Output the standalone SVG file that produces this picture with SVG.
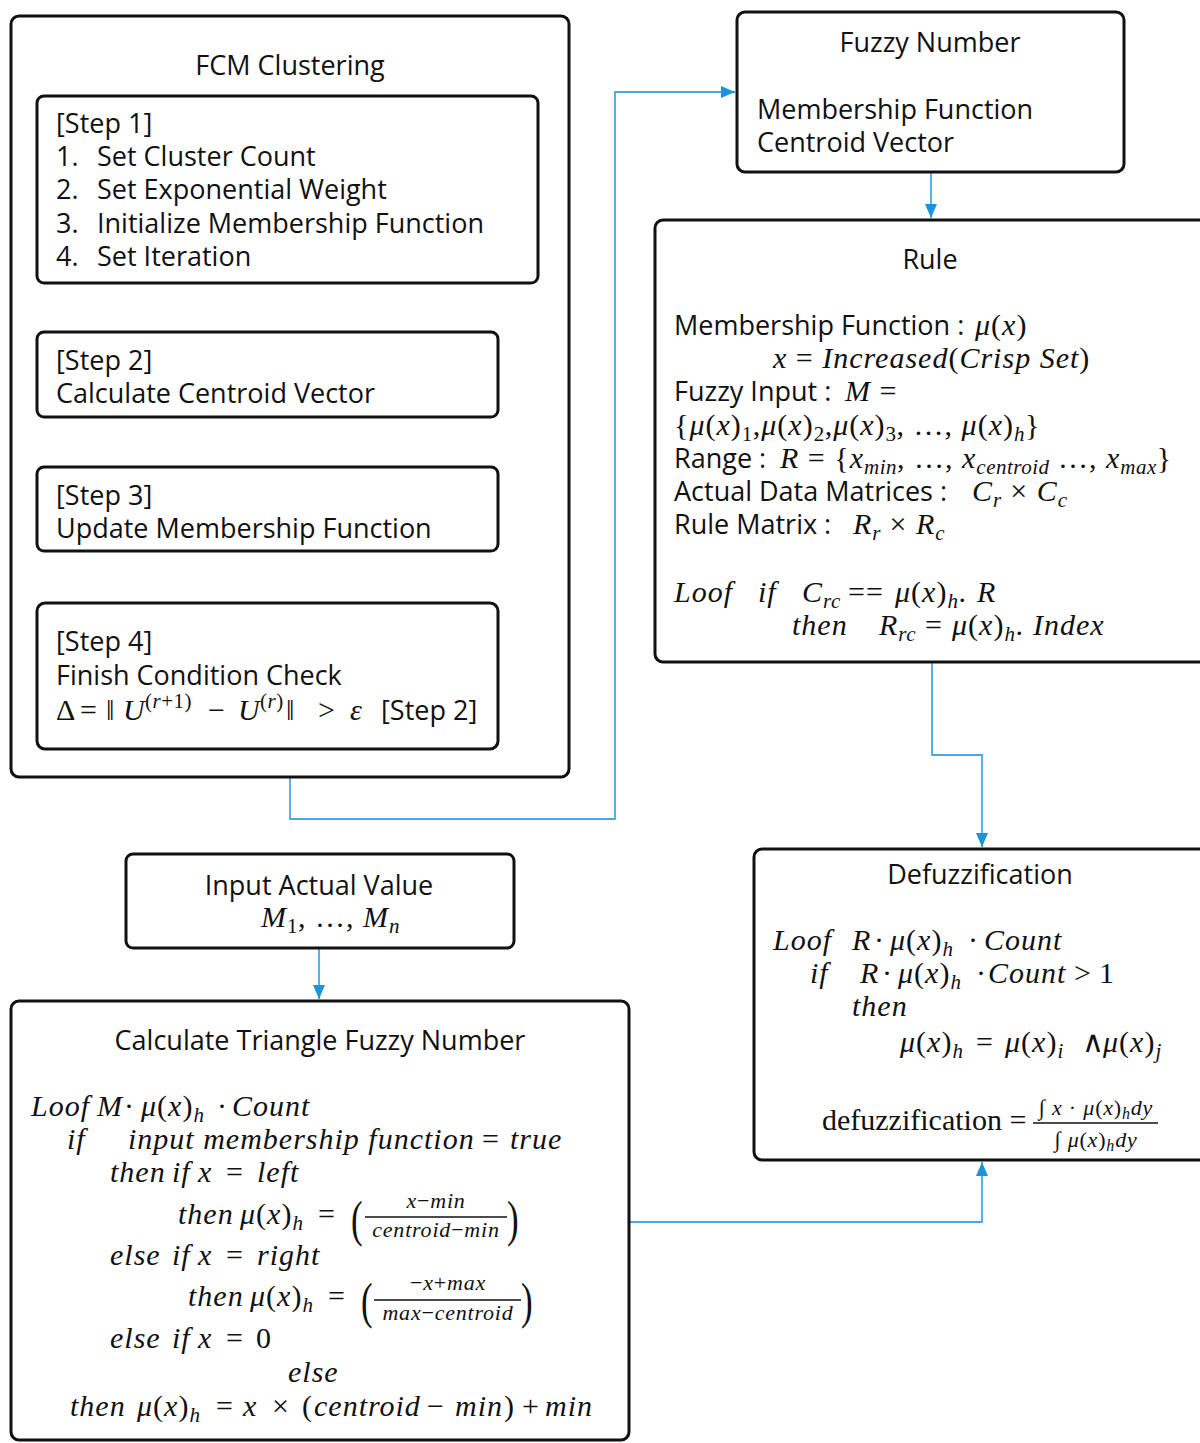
<svg xmlns="http://www.w3.org/2000/svg" width="1200" height="1443" viewBox="0 0 1200 1443">
<style>
.box{fill:#fff;stroke:#111;stroke-width:3}
.t{font-family:"Open Sans","Noto Sans",sans-serif;font-size:27px;fill:#111}
.c{text-anchor:middle}
.m{font-family:"Liberation Serif",serif;font-style:italic;font-size:30px;letter-spacing:1px;fill:#111}
.u{font-style:normal}
.b{font-size:21px;letter-spacing:0.5px}
.f{font-size:22px;letter-spacing:0.8px}
.p{font-family:"Liberation Serif",serif;font-style:normal;font-size:50px;fill:#111}
.con{fill:none;stroke:#4aa8df;stroke-width:1.8}
.bar{stroke:#111;stroke-width:1.5}
</style>
<defs>
<marker id="ah" markerUnits="userSpaceOnUse" markerWidth="14" markerHeight="12" refX="14" refY="6" orient="auto">
<path d="M0,0 L14,6 L0,12 z" fill="#1c94d8"/>
</marker>
</defs>
<rect width="1200" height="1443" fill="#fff"/>

<g id="connectors">
<path class="con" d="M268,283 V330" marker-end="url(#ah)"/>
<path class="con" d="M268,417 V465" marker-end="url(#ah)"/>
<path class="con" d="M268,551 V601" marker-end="url(#ah)"/>
<path class="con" d="M498,677 H540 V375 H500" marker-end="url(#ah)"/>
<path class="con" d="M290,777 V819 H615 V92 H735" marker-end="url(#ah)"/>
<path class="con" d="M931,172 V218" marker-end="url(#ah)"/>
<path class="con" d="M932,662 V755 H982 V847" marker-end="url(#ah)"/>
<path class="con" d="M319,948 V999" marker-end="url(#ah)"/>
<path class="con" d="M629,1222 H982 V1162" marker-end="url(#ah)"/>
</g>

<g id="fcm">
<rect class="box" x="11" y="16" width="558" height="761" rx="8"/>
<text class="t c" x="290" y="75">FCM Clustering</text>
</g>

<g id="step1">
<rect class="box" x="37" y="96" width="501" height="187" rx="7"/>
<text class="t" x="56" y="133">[Step 1]</text>
<text class="t" x="56" y="166">1.</text><text class="t" x="97" y="166">Set Cluster Count</text>
<text class="t" x="56" y="199">2.</text><text class="t" x="97" y="199">Set Exponential Weight</text>
<text class="t" x="56" y="233">3.</text><text class="t" x="97" y="233">Initialize Membership Function</text>
<text class="t" x="56" y="266">4.</text><text class="t" x="97" y="266">Set Iteration</text>
</g>

<g id="step2">
<rect class="box" x="37" y="332" width="461" height="85" rx="7"/>
<text class="t" x="56" y="370">[Step 2]</text>
<text class="t" x="56" y="403">Calculate Centroid Vector</text>
</g>

<g id="step3">
<rect class="box" x="37" y="467" width="461" height="84" rx="7"/>
<text class="t" x="56" y="505">[Step 3]</text>
<text class="t" x="56" y="538">Update Membership Function</text>
</g>

<g id="step4">
<rect class="box" x="37" y="603" width="461" height="146" rx="8"/>
<text class="t" x="56" y="651">[Step 4]</text>
<text class="t" x="56" y="685">Finish Condition Check</text>
<text class="m" y="720"><tspan class="u" x="56">Δ</tspan><tspan class="u" x="80">=</tspan><tspan class="u" x="106">‖</tspan><tspan x="123">U</tspan><tspan class="b" x="145" baseline-shift="12"><tspan class="u">(</tspan>r<tspan class="u">+1)</tspan></tspan><tspan class="u" x="208">−</tspan><tspan x="238">U</tspan><tspan class="b" x="260" baseline-shift="12"><tspan class="u">(</tspan>r<tspan class="u">)</tspan></tspan><tspan class="u" x="286">‖</tspan><tspan class="u" x="318">&gt;</tspan><tspan x="350">ε</tspan></text>
<text class="t" x="381" y="720">[Step 2]</text>
</g>

<g id="fuzzy-number">
<rect class="box" x="737" y="12" width="387" height="160" rx="8"/>
<text class="t c" x="930" y="52">Fuzzy Number</text>
<text class="t" x="757" y="119">Membership Function</text>
<text class="t" x="757" y="152">Centroid Vector</text>
</g>

<g id="rule">
<rect class="box" x="655" y="220" width="560" height="442" rx="8"/>
<text class="t c" x="930" y="269">Rule</text>
<text class="t" x="674" y="335">Membership Function :</text>
<text class="m" x="975" y="335">μ<tspan class="u">(</tspan>x<tspan class="u">)</tspan></text>
<text class="m" x="773" y="368">x <tspan class="u">=</tspan> Increased<tspan class="u">(</tspan>Crisp Set<tspan class="u">)</tspan></text>
<text class="t" x="674" y="401">Fuzzy Input :</text>
<text class="m" x="845" y="401">M <tspan class="u">=</tspan></text>
<text class="m" x="674" y="435"><tspan class="u">{</tspan>μ<tspan class="u">(</tspan>x<tspan class="u">)</tspan><tspan class="b u" baseline-shift="-6">1</tspan><tspan class="u">,</tspan>μ<tspan class="u">(</tspan>x<tspan class="u">)</tspan><tspan class="b u" baseline-shift="-6">2</tspan><tspan class="u">,</tspan>μ<tspan class="u">(</tspan>x<tspan class="u">)</tspan><tspan class="b u" baseline-shift="-6">3</tspan><tspan class="u">, …, </tspan>μ<tspan class="u">(</tspan>x<tspan class="u">)</tspan><tspan class="b" baseline-shift="-6">h</tspan><tspan class="u">}</tspan></text>
<text class="t" x="674" y="468">Range :</text>
<text class="m" x="780" y="468">R <tspan class="u">= {</tspan>x<tspan class="b" baseline-shift="-6">min</tspan><tspan class="u">, …, </tspan>x<tspan class="b" baseline-shift="-6">centroid</tspan><tspan class="u"> …, </tspan>x<tspan class="b" baseline-shift="-6">max</tspan><tspan class="u">}</tspan></text>
<text class="t" x="674" y="501">Actual Data Matrices  :</text>
<text class="m" x="972" y="501">C<tspan class="b" baseline-shift="-6">r</tspan><tspan class="u"> × </tspan>C<tspan class="b" baseline-shift="-6">c</tspan></text>
<text class="t" x="674" y="534">Rule Matrix :</text>
<text class="m" x="853" y="534">R<tspan class="b" baseline-shift="-6">r</tspan><tspan class="u">  × </tspan>R<tspan class="b" baseline-shift="-6">c</tspan></text>
<text class="m" y="602"><tspan x="674">Loof</tspan><tspan x="758">if</tspan><tspan x="802">C</tspan><tspan class="b" baseline-shift="-6">rc</tspan><tspan class="u" x="848">==</tspan><tspan x="895">μ</tspan><tspan class="u">(</tspan>x<tspan class="u">)</tspan><tspan class="b" baseline-shift="-6">h</tspan><tspan class="u">.</tspan><tspan x="977">R</tspan></text>
<text class="m" y="635"><tspan x="792">then</tspan><tspan x="879">R</tspan><tspan class="b" baseline-shift="-6">rc</tspan><tspan class="u" x="925">=</tspan><tspan x="952">μ</tspan><tspan class="u">(</tspan>x<tspan class="u">)</tspan><tspan class="b" baseline-shift="-6">h</tspan><tspan class="u">.</tspan><tspan x="1033">Index</tspan></text>
</g>

<g id="input-actual-value">
<rect class="box" x="126" y="854" width="388" height="94" rx="7"/>
<text class="t c" x="319" y="895">Input Actual Value</text>
<text class="m" x="261" y="927">M<tspan class="b u" baseline-shift="-6">1</tspan><tspan class="u">, …, </tspan>M<tspan class="b" baseline-shift="-6">n</tspan></text>
</g>

<g id="defuzzification">
<rect class="box" x="754" y="849" width="460" height="311" rx="8"/>
<text class="t c" x="980" y="884">Defuzzification</text>
<text class="m" y="950"><tspan x="773">Loof</tspan><tspan x="852">R</tspan><tspan class="u" x="874">·</tspan><tspan x="890">μ</tspan><tspan class="u">(</tspan>x<tspan class="u">)</tspan><tspan class="b" baseline-shift="-6">h</tspan><tspan class="u" x="968">·</tspan><tspan x="984">Count</tspan></text>
<text class="m" y="983"><tspan x="810">if</tspan><tspan x="860">R</tspan><tspan class="u" x="882">·</tspan><tspan x="898">μ</tspan><tspan class="u">(</tspan>x<tspan class="u">)</tspan><tspan class="b" baseline-shift="-6">h</tspan><tspan class="u" x="976">·</tspan><tspan x="988">Count</tspan><tspan class="u" x="1074">&gt;</tspan><tspan class="u" x="1099">1</tspan></text>
<text class="m" x="852" y="1016">then</text>
<text class="m" y="1052"><tspan x="900">μ</tspan><tspan class="u">(</tspan>x<tspan class="u">)</tspan><tspan class="b" baseline-shift="-6">h</tspan><tspan class="u" x="976">=</tspan><tspan x="1005">μ</tspan><tspan class="u">(</tspan>x<tspan class="u">)</tspan><tspan class="b" baseline-shift="-6">i</tspan><tspan class="u" x="1082">∧</tspan><tspan x="1103">μ</tspan><tspan class="u">(</tspan>x<tspan class="u">)</tspan><tspan class="b" baseline-shift="-6">j</tspan></text>
<text class="m u" x="822" y="1130" style="letter-spacing:0">defuzzification =</text>
<text class="m f c" x="1096" y="1115"><tspan class="u">∫ </tspan>x<tspan class="u"> · </tspan>μ<tspan class="u">(</tspan>x<tspan class="u">)</tspan><tspan style="font-size:16px" baseline-shift="-4">h</tspan>dy</text>
<line class="bar" x1="1033" y1="1123" x2="1158" y2="1123"/>
<text class="m f c" x="1096" y="1147"><tspan class="u">∫ </tspan>μ<tspan class="u">(</tspan>x<tspan class="u">)</tspan><tspan style="font-size:16px" baseline-shift="-4">h</tspan>dy</text>
</g>

<g id="triangle-fuzzy-number">
<rect class="box" x="11" y="1001" width="618" height="439" rx="8"/>
<text class="t c" x="320" y="1050">Calculate Triangle Fuzzy Number</text>
<text class="m" y="1116"><tspan x="31">Loof</tspan><tspan x="97">M</tspan><tspan class="u" x="124">·</tspan><tspan x="141">μ</tspan><tspan class="u">(</tspan>x<tspan class="u">)</tspan><tspan class="b" baseline-shift="-6">h</tspan><tspan class="u" x="217">·</tspan><tspan x="232">Count</tspan></text>
<text class="m" y="1149"><tspan x="67">if</tspan><tspan x="128">input membership function</tspan><tspan class="u" x="482">=</tspan><tspan x="510">true</tspan></text>
<text class="m" y="1182"><tspan x="110">then</tspan><tspan x="172">if</tspan><tspan x="198">x</tspan><tspan class="u" x="226">=</tspan><tspan x="257">left</tspan></text>
<text class="m" y="1224"><tspan x="178">then</tspan><tspan x="240">μ</tspan><tspan class="u">(</tspan>x<tspan class="u">)</tspan><tspan class="b" baseline-shift="-6">h</tspan><tspan class="u" x="318">=</tspan></text>
<text class="p" transform="translate(351 1236) scale(0.7 1)">(</text>
<text class="m f c" x="436" y="1208">x<tspan class="u">−</tspan>min</text>
<line class="bar" x1="365" y1="1217" x2="507" y2="1217"/>
<text class="m f c" x="436" y="1237">centroid<tspan class="u">−</tspan>min</text>
<text class="p" transform="translate(507 1236) scale(0.7 1)">)</text>
<text class="m" y="1265"><tspan x="110">else</tspan><tspan x="172">if</tspan><tspan x="198">x</tspan><tspan class="u" x="226">=</tspan><tspan x="257">right</tspan></text>
<text class="m" y="1306"><tspan x="188">then</tspan><tspan x="250">μ</tspan><tspan class="u">(</tspan>x<tspan class="u">)</tspan><tspan class="b" baseline-shift="-6">h</tspan><tspan class="u" x="328">=</tspan></text>
<text class="p" transform="translate(361 1318) scale(0.7 1)">(</text>
<text class="m f c" x="448" y="1290"><tspan class="u">−</tspan>x<tspan class="u">+</tspan>max</text>
<line class="bar" x1="374" y1="1300" x2="521" y2="1300"/>
<text class="m f c" x="448" y="1320">max<tspan class="u">−</tspan>centroid</text>
<text class="p" transform="translate(521 1318) scale(0.7 1)">)</text>
<text class="m" y="1348"><tspan x="110">else</tspan><tspan x="172">if</tspan><tspan x="198">x</tspan><tspan class="u" x="226">=</tspan><tspan class="u" x="256">0</tspan></text>
<text class="m" x="288" y="1382">else</text>
<text class="m" y="1416"><tspan x="70">then</tspan><tspan x="137">μ</tspan><tspan class="u">(</tspan>x<tspan class="u">)</tspan><tspan class="b" baseline-shift="-6">h</tspan><tspan class="u" x="216">=</tspan><tspan x="243">x</tspan><tspan class="u" x="272">×</tspan><tspan class="u" x="302">(</tspan><tspan x="314">centroid</tspan><tspan class="u" x="427">−</tspan><tspan x="455">min</tspan><tspan class="u" x="504">)</tspan><tspan class="u" x="522">+</tspan><tspan x="545">min</tspan></text>
</g>
</svg>
